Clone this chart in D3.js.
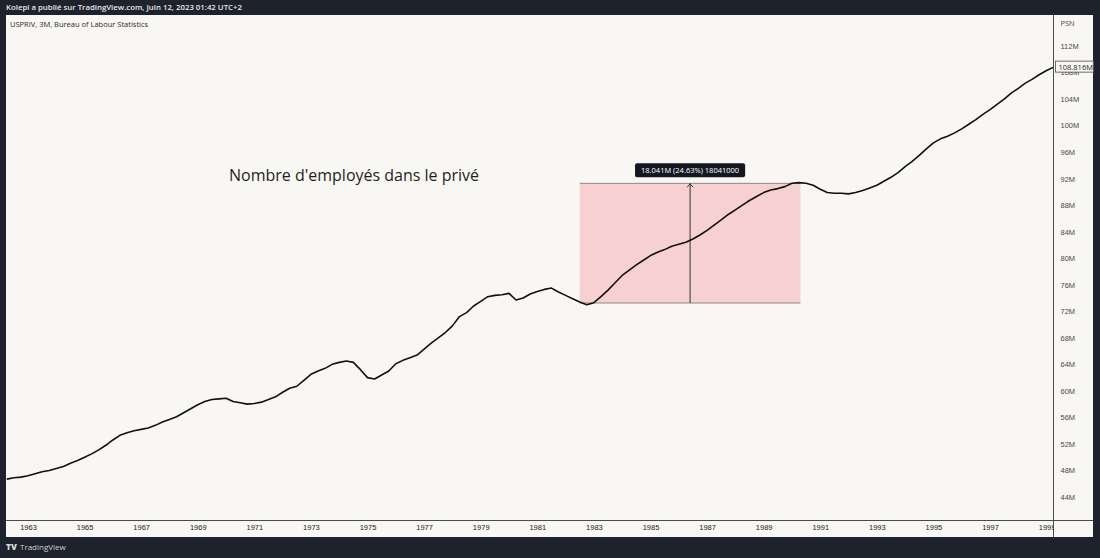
<!DOCTYPE html>
<html>
<head>
<meta charset="utf-8">
<script src="https://cdn.jsdelivr.net/npm/d3@7"></script>
<style>
  html, body { margin: 0; padding: 0; background: #1e222d; }
  svg { display: block; font-family: "Open Sans", "DejaVu Sans", sans-serif; }
</style>
</head>
<body>
<svg id="chart"></svg>
<script>
// USPRIV, 3M - private employees (millions), quarterly
const startYear = 1962.25;
const employees = [
  46.7, 46.9, 47.0, 47.2, 47.5, 47.8, 48.0, 48.3, 48.6, 49.1, 49.5, 50.0,
  50.5, 51.1, 51.8, 52.6, 53.3, 53.7, 54.0, 54.2, 54.4, 54.8, 55.3, 55.7,
  56.1, 56.7, 57.3, 57.9, 58.4, 58.7, 58.8, 58.9, 58.4, 58.2, 58.0, 58.1,
  58.3, 58.7, 59.1, 59.8, 60.4, 60.7, 61.6, 62.5, 63.0, 63.4, 64.0, 64.3,
  64.5, 64.3, 63.2, 62.0, 61.8, 62.4, 63.0, 64.1, 64.6, 65.0, 65.4, 66.3,
  67.2, 68.0, 68.8, 69.8, 71.2, 71.8, 72.8, 73.5, 74.2, 74.4, 74.5, 74.7,
  73.7, 74.0, 74.6, 75.0, 75.3, 75.5, 74.9, 74.4, 73.9, 73.4, 73.0, 73.3,
  74.2, 75.2, 76.3, 77.4, 78.2, 79.0, 79.7, 80.4, 80.9, 81.3, 81.8, 82.1,
  82.4, 82.9, 83.5, 84.2, 85.0, 85.8, 86.6, 87.3, 88.0, 88.7, 89.3, 89.9,
  90.3, 90.5, 90.8, 91.3, 91.4, 91.3, 91.0, 90.4, 89.9, 89.8, 89.8, 89.7,
  89.9, 90.2, 90.6, 91.0, 91.6, 92.2, 92.9, 93.8, 94.6, 95.5, 96.5, 97.4,
  98.0, 98.4, 98.9, 99.5, 100.2, 100.9, 101.7, 102.4, 103.2, 104.0, 104.9, 105.6,
  106.4, 107.0, 107.7, 108.3, 108.816
];
const data = employees.map((v, i) => ({ t: startYear + i * 0.25, v }));

const yearTicks = d3.range(1963, 2000, 2);
const priceTicks = d3.range(44, 113, 4);

// measure annotation (from / to)
const measureFrom = { t: 1982.5, v: 73.25 };
const measureTo = { t: 1990.3, v: 91.291 };
const measureLabel = "18.041M (24.63%) 18041000";
const lastLabel = "108.816M";

const title = "Nombre d'employés dans le privé";
const header = "Kolepi a publié sur TradingView.com, Juin 12, 2023 01:42 UTC+2";
const legend = "USPRIV, 3M, Bureau of Labour Statistics";

const W = 1100, H = 558;
const frame = { left: 6, right: 1093, top: 15, bottom: 537 };
const plot = { left: 6, right: 1053.5, top: 15, bottom: 520.5 };

const svg = d3.select("#chart").attr("width", W).attr("height", H);

svg.append("rect").attr("width", W).attr("height", H).attr("fill", "#1e222d");
svg.append("rect")
  .attr("x", frame.left).attr("y", frame.top)
  .attr("width", frame.right - frame.left).attr("height", frame.bottom - frame.top)
  .attr("fill", "#f8f7f3");

const x = d3.scaleLinear().domain([1963, 1997]).range([28, 990]);
const y = d3.scaleLinear().domain([44, 112]).range([497, 46]);

svg.append("defs").append("clipPath").attr("id", "plotclip")
  .append("rect")
  .attr("x", plot.left).attr("y", plot.top)
  .attr("width", plot.right - plot.left).attr("height", plot.bottom - plot.top);

const g = svg.append("g").attr("clip-path", "url(#plotclip)");

// measure box
const mx0 = x(measureFrom.t), mx1 = x(measureTo.t);
const my0 = y(measureFrom.v), my1 = y(measureTo.v);
g.append("rect")
  .attr("x", mx0).attr("y", my1)
  .attr("width", mx1 - mx0).attr("height", my0 - my1)
  .attr("fill", "#f7d1d1");
g.append("line").attr("x1", mx0).attr("x2", mx1).attr("y1", my1).attr("y2", my1)
  .attr("stroke", "#8a8a8a").attr("stroke-width", 1);
g.append("line").attr("x1", mx0).attr("x2", mx1).attr("y1", my0).attr("y2", my0)
  .attr("stroke", "#8a8a8a").attr("stroke-width", 1);
const mxMid = (mx0 + mx1) / 2;
g.append("line").attr("x1", mxMid).attr("x2", mxMid).attr("y1", my0).attr("y2", my1)
  .attr("stroke", "#333").attr("stroke-width", 1);
g.append("path")
  .attr("d", `M${mxMid - 3},${my1 + 4} L${mxMid},${my1 + 0.5} L${mxMid + 3},${my1 + 4}`)
  .attr("fill", "none").attr("stroke", "#333").attr("stroke-width", 1);

// series line
const line = d3.line().x(d => x(d.t)).y(d => y(d.v));
g.append("path")
  .datum(data)
  .attr("d", line)
  .attr("fill", "none")
  .attr("stroke", "#111")
  .attr("stroke-width", 1.6)
  .attr("stroke-linejoin", "round");

// measure label
const lbl = svg.append("g");
const lblText = lbl.append("text")
  .attr("x", mxMid).attr("y", my1 - 10)
  .attr("text-anchor", "middle")
  .attr("fill", "#fff")
  .style("font-size", "7.5px")
  .text(measureLabel);
const bb = lblText.node().getBBox();
lbl.insert("rect", "text")
  .attr("x", bb.x - 6).attr("y", my1 - 20)
  .attr("width", bb.width + 12).attr("height", 14)
  .attr("rx", 2)
  .attr("fill", "#131722");

// title
svg.append("text")
  .attr("x", 229).attr("y", 181)
  .attr("fill", "#1f1f1f")
  .style("font-size", "16px")
  .text(title);

// axes lines
svg.append("line").attr("x1", plot.right).attr("x2", plot.right)
  .attr("y1", frame.top).attr("y2", frame.bottom)
  .attr("stroke", "#4a4a4a").attr("stroke-width", 1);
svg.append("line").attr("x1", frame.left).attr("x2", frame.right)
  .attr("y1", plot.bottom).attr("y2", plot.bottom)
  .attr("stroke", "#4a4a4a").attr("stroke-width", 1);

// right price axis (108M partly hidden under the last-value label, as in TradingView)
const lastY = y(employees[employees.length - 1]);
const yAxis = d3.axisRight(y)
  .tickValues(priceTicks)
  .tickSize(0).tickPadding(0)
  .tickFormat(d => d + "M");
const ya = svg.append("g").attr("transform", `translate(${plot.right + 7},0)`).call(yAxis);
ya.select(".domain").remove();
ya.selectAll("text").attr("fill", "#4a4a4a").style("font-size", "7.5px");

svg.append("text").attr("x", plot.right + 7).attr("y", 26)
  .attr("fill", "#4a4a4a").style("font-size", "7.5px").text("PSN");

// last value label
svg.append("rect")
  .attr("x", plot.right + 2).attr("y", lastY - 6)
  .attr("width", 38).attr("height", 11)
  .attr("fill", "#f8f7f3").attr("stroke", "#4a4a4a").attr("stroke-width", 0.8);
svg.append("text").attr("x", plot.right + 5).attr("y", lastY + 2.5)
  .attr("fill", "#222").style("font-size", "7.5px").text(lastLabel);

// bottom time axis
svg.append("defs").append("clipPath").attr("id", "xclip")
  .append("rect").attr("x", plot.left).attr("y", plot.bottom)
  .attr("width", plot.right - plot.left).attr("height", frame.bottom - plot.bottom);
const xAxis = d3.axisBottom(x).tickValues(yearTicks).tickSize(0).tickPadding(0)
  .tickFormat(d3.format("d"));
const xa = svg.append("g").attr("clip-path", "url(#xclip)")
  .append("g").attr("transform", `translate(0,${plot.bottom + 4})`).call(xAxis);
xa.select(".domain").remove();
xa.selectAll("text").attr("fill", "#222").style("font-size", "7.5px");

// header and legend
svg.append("text").attr("x", 6).attr("y", 10)
  .attr("fill", "#e8e8e8").style("font-size", "7.8px").style("font-weight", "600")
  .text(header);
svg.append("text").attr("x", 10).attr("y", 27)
  .attr("fill", "#2a2a2a").style("font-size", "7.5px")
  .text(legend);

// footer logo
svg.append("text").attr("x", 6).attr("y", 550)
  .attr("fill", "#d8d8d8").style("font-size", "8.5px").style("font-weight", "800")
  .text("TV");
svg.append("text").attr("x", 20).attr("y", 550)
  .attr("fill", "#d0d0d0").style("font-size", "8px")
  .text("TradingView");
</script>
</body>
</html>
